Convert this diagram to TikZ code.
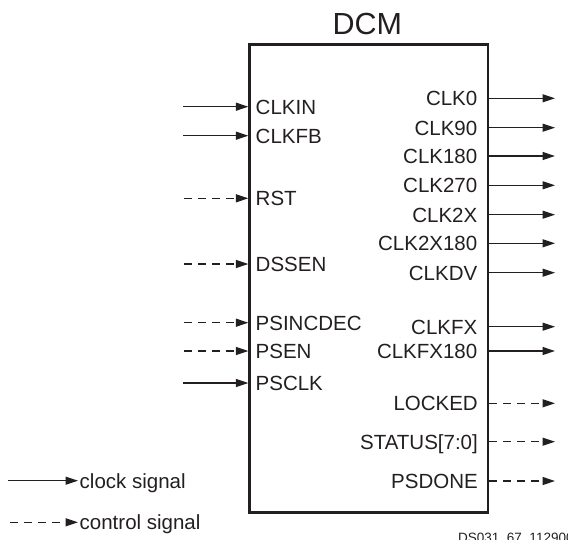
\documentclass[tikz,border=0pt]{standalone}
\usepackage{fontspec}
\setmainfont{Liberation Sans}
\usetikzlibrary{arrows.meta}
\definecolor{ink}{RGB}{35,31,32}
\begin{document}
\begin{tikzpicture}[x=1pt,y=-1pt,
  lbl/.style={font=\fontsize{20.5}{24}\selectfont, inner sep=0pt, text height=14.7pt, text depth=0pt, text=ink},
  sig/.style={draw=ink, line width=1.35pt, -{Triangle[length=12.5pt,width=8pt]}},
  ctl/.style={sig, dash pattern=on 8pt off 6pt},
  boxstyle/.style={draw=ink, line width=2.7pt, minimum width=238.3pt, minimum height=468pt, inner sep=0pt}]
\useasboundingbox (0,0) rectangle (568,539);

% main block
\node[boxstyle] (dcm) at (368.85,278.7) {};
\node[font=\fontsize{30.5}{36}\selectfont, inner sep=0pt, text height=21.9pt, text depth=0pt, text=ink] (title) at (367.4,24) {DCM};

% inputs
\node[lbl, anchor=west] (clkin)    at (255.5,106.7) {CLKIN};
\node[lbl, anchor=west] (clkfb)    at (255.5,135.7) {CLKFB};
\node[lbl, anchor=west] (rst)      at (255.5,198.3) {RST};
\node[lbl, anchor=west] (dssen)    at (255.5,264)   {DSSEN};
\node[lbl, anchor=west] (psincdec) at (255.5,322.7) {PSINCDEC};
\node[lbl, anchor=west] (psen)     at (255.5,351)   {PSEN};
\node[lbl, anchor=west] (psclk)    at (255.5,383)   {PSCLK};

\coordinate (clkin-in)    at (183,106.7);
\coordinate (clkfb-in)    at (183,135.7);
\coordinate (rst-in)      at (184,198.3);
\coordinate (dssen-in)    at (184,264);
\coordinate (psincdec-in) at (184,322.7);
\coordinate (psen-in)     at (184,351);
\coordinate (psclk-in)    at (183,383);

\draw[sig] (clkin-in) -- (clkin-in -| dcm.west);
\draw[sig] (clkfb-in) -- (clkfb-in -| dcm.west);
\draw[ctl] (rst-in) -- (rst-in -| dcm.west);
\draw[ctl] (dssen-in) -- (dssen-in -| dcm.west);
\draw[ctl] (psincdec-in) -- (psincdec-in -| dcm.west);
\draw[ctl] (psen-in) -- (psen-in -| dcm.west);
\draw[sig] (psclk-in) -- (psclk-in -| dcm.west);

% outputs
\node[lbl, anchor=east] (clk0)     at (477.5,98.3)  {CLK0};
\node[lbl, anchor=east] (clk90)    at (477.5,127.7) {CLK90};
\node[lbl, anchor=east] (clk180)   at (477.5,156)   {CLK180};
\node[lbl, anchor=east] (clk270)   at (477.5,185.3) {CLK270};
\node[lbl, anchor=east] (clk2x)    at (477.5,214.7) {CLK2X};
\node[lbl, anchor=east] (clk2x180) at (477.5,243.3) {CLK2X180};
\node[lbl, anchor=east] (clkdv)    at (477.5,272.7) {CLKDV};
\node[lbl, anchor=east] (clkfx)    at (477.5,326.7) {CLKFX};
\node[lbl, anchor=east] (clkfx180) at (477.5,351)   {CLKFX180};
\node[lbl, anchor=east] (locked)   at (478,403.3)   {LOCKED};
\node[lbl, anchor=east] (status)   at (478,441.7)   {STATUS[7:0]};
\node[lbl, anchor=east] (psdone)   at (478,481)     {PSDONE};

\foreach \n/\y in {clk0/98.3, clk90/127.7, clk180/156, clk270/185.3, clk2x/214.7,
                   clk2x180/243.3, clkdv/272.7, clkfx/326.7, clkfx180/351}{
  \coordinate (\n-out) at (555,\y);
  \draw[sig] (\n-out -| dcm.east) -- (\n-out);
}
\foreach \n/\y in {locked/403.3, status/441.7, psdone/481}{
  \coordinate (\n-out) at (555,\y);
  \draw[ctl] (\n-out -| dcm.east) -- (\n-out);
}

% legend
\node[lbl, anchor=west] (clocklbl)   at (79.5,480.7) {clock signal};
\node[lbl, anchor=west] (controllbl) at (79.5,522.3) {control signal};
\coordinate (clock-start)   at (8,480.7);
\coordinate (control-start) at (10,522.3);
\draw[sig] (clock-start) -- ([xshift=-1.5pt]clocklbl.west);
\draw[ctl] (control-start) -- ([xshift=-1.5pt]controllbl.west);

% figure id (cut off at the lower edge, as in the reference)
\node[font=\fontsize{13.5}{16}\selectfont, inner sep=0pt, anchor=base west, text=ink] (figid) at (458,542.7) {DS031\_67\_112900};
\end{tikzpicture}
\end{document}
